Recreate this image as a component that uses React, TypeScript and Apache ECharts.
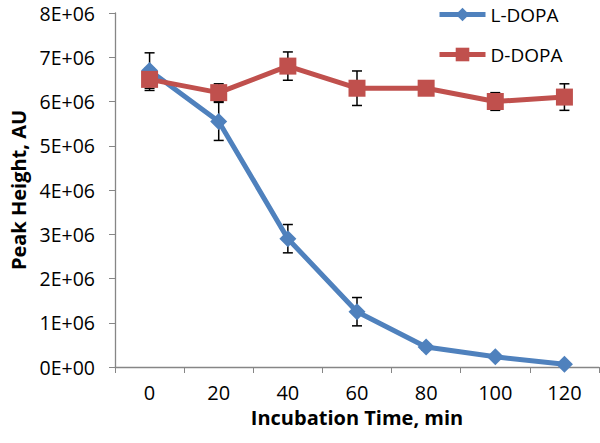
import React, { useEffect, useRef } from "react";
import * as echarts from "echarts";

const categories = ["0", "20", "40", "60", "80", "100", "120"];
const yTickLabels = ["0E+00", "1E+06", "2E+06", "3E+06", "4E+06", "5E+06", "6E+06", "7E+06", "8E+06"];
const lDopa = [6.7e6, 5.55e6, 2.9e6, 1.25e6, 0.45e6, 0.23e6, 0.06e6];
const lDopaErr = [0.4e6, 0.43e6, 0.32e6, 0.32e6, 0.06e6, 0.04e6, 0.03e6];
const dDopa = [6.5e6, 6.2e6, 6.8e6, 6.3e6, 6.3e6, 6.0e6, 6.1e6];
const dDopaErr = [0.25e6, 0.2e6, 0.32e6, 0.39e6, 0.05e6, 0.2e6, 0.3e6];

const FONT = "Open Sans";
const BLUE = "#4F81BD";
const RED = "#C0504D";

function errData(vals: number[], errs: number[]) {
  return vals.map((v, i) => [i, v - errs[i], v + errs[i]]);
}

const errRender = (params: any, api: any) => {
  const x = api.value(0);
  const lo = api.coord([x, api.value(1)]);
  const hi = api.coord([x, api.value(2)]);
  const w = 5;
  const style = { stroke: "#000", lineWidth: 1.5 };
  return {
    type: "group",
    children: [
      { type: "line", shape: { x1: lo[0], y1: lo[1], x2: hi[0], y2: hi[1] }, style },
      { type: "line", shape: { x1: lo[0] - w, y1: lo[1], x2: lo[0] + w, y2: lo[1] }, style },
      { type: "line", shape: { x1: hi[0] - w, y1: hi[1], x2: hi[0] + w, y2: hi[1] }, style },
    ],
  };
};

export default function App() {
  const ref = useRef<HTMLDivElement>(null);
  useEffect(() => {
    const chart = echarts.init(ref.current!, null, { renderer: "svg" });
    chart.setOption({
      animation: false,
      backgroundColor: "#fff",
      textStyle: { fontFamily: FONT },
      grid: { left: 108, right: 1, top: 13, bottom: 76 },
      legend: {
        data: ["L-DOPA", "D-DOPA"],
        orient: "vertical",
        left: 432,
        top: 0,
        itemWidth: 46,
        itemHeight: 17,
        itemGap: 21,
        lineStyle: { width: 5 },
        textStyle: { fontFamily: FONT, fontSize: 19, color: "#000" },
      },
      xAxis: {
        type: "category",
        data: categories,
        boundaryGap: true,
        axisLine: { lineStyle: { color: "#868686", width: 1.3 } },
        axisTick: { show: true, length: 6, lineStyle: { color: "#868686" } },
        axisLabel: { fontFamily: FONT, fontSize: 20, color: "#000", margin: 15 },
        name: "Incubation Time, min",
        nameLocation: "middle",
        nameGap: 40,
        nameTextStyle: { fontFamily: FONT, fontSize: 20, fontWeight: "bold", color: "#000" },
      },
      yAxis: {
        type: "value",
        min: 0,
        max: 8e6,
        interval: 1e6,
        splitLine: { show: false },
        axisLine: { show: true, lineStyle: { color: "#868686", width: 1.3 } },
        axisTick: { show: true, length: 6, lineStyle: { color: "#868686" } },
        axisLabel: {
          fontFamily: FONT,
          fontSize: 19.5,
          lineHeight: 20,
          color: "#000",
          margin: 20,
          formatter: (v: number) => yTickLabels[Math.round(v / 1e6)],
        },
        name: "Peak Height, AU",
        nameLocation: "middle",
        nameRotate: 90,
        nameGap: 87,
        nameTextStyle: { fontFamily: FONT, fontSize: 20, fontWeight: "bold", color: "#000" },
      },
      series: [
        {
          type: "custom",
          name: "L-err",
          renderItem: errRender,
          data: errData(lDopa, lDopaErr),
          encode: { x: 0, y: [1, 2] },
          z: 1,
          silent: true,
        },
        {
          type: "custom",
          name: "D-err",
          renderItem: errRender,
          data: errData(dDopa, dDopaErr),
          encode: { x: 0, y: [1, 2] },
          z: 1,
          silent: true,
        },
        {
          type: "line",
          name: "L-DOPA",
          data: lDopa,
          symbol: "diamond",
          symbolSize: 17,
          color: BLUE,
          lineStyle: { width: 5, color: BLUE },
          itemStyle: { color: BLUE },
          z: 2,
        },
        {
          type: "line",
          name: "D-DOPA",
          data: dDopa,
          symbol: "rect",
          symbolSize: 17,
          color: RED,
          lineStyle: { width: 5, color: RED },
          itemStyle: { color: RED },
          z: 3,
        },
      ],
    });
    return () => chart.dispose();
  }, []);
  return (
    <div
      ref={ref}
      style={{ position: "fixed", left: 0, top: 0, width: 600, height: 443 }}
    />
  );
}
